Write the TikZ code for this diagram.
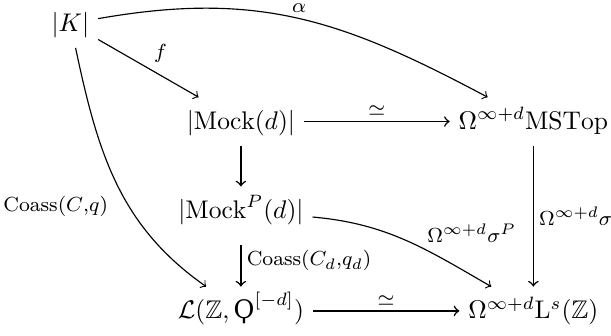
\documentclass[tikz,border=0pt]{standalone}
\usepackage{amsmath,amssymb}
\usepackage{fontspec}
\newfontfamily\qoppafont{DejaVu Serif}
\newcommand{\Qop}{\text{\qoppafont Ϙ}}
\begin{document}
\begin{tikzpicture}[
    obj/.style={anchor=base, text height=9pt, text depth=3pt},
    lbl/.style={font=\footnotesize, inner sep=2pt},
    map/.style={->, line width=0.6pt},
    curv/.style={->, line width=0.45pt}]
    \useasboundingbox (0,0) rectangle (8.42,4.62);
    % objects
    \node[obj] (K) at (0.97,4.19) {$|K|$};
    \node[obj] (mock) at (3.32,2.84) {$|\mathrm{Mock}(d)|$};
    \node[obj] (ms) at (7.35,2.84) {$\Omega^{\infty+d}\mathrm{MSTop}$};
    \node[obj] (mockP) at (3.32,1.61) {$|\mathrm{Mock}^P(d)|$};
    \node[obj] (L) at (3.32,0.23) {$\mathcal{L}(\mathbb{Z}, \Qop^{[-d]})$};
    \node[obj] (Ls) at (7.35,0.23) {$\Omega^{\infty+d}\mathrm{L}^s(\mathbb{Z})$};
    % maps
    \draw[curv] (K) to[out=10, in=152, looseness=1.05] node[midway, above, lbl] {$\alpha$} (ms);
    \draw[curv] (K) -- node[midway, above right, lbl] {$f$} (mock);
    \draw[curv] (K) to[out=-78, in=145] node[pos=0.6, left=6pt, lbl] {$\mathrm{Coass}(C{,}q)$} (L);
    \draw[map] (mock) -- node[midway, above, lbl] {$\simeq$} (ms);
    \draw[map] (mock) -- (mockP);
    \draw[map] (ms) -- node[midway, right, lbl] {$\Omega^{\infty+d}\sigma$} (Ls);
    \draw[curv] (mockP) to[out=-5, in=150] node[pos=0.6, above right, lbl] {$\Omega^{\infty+d}\sigma^P$} (Ls);
    \draw[map, shorten <=4pt] (mockP) -- node[midway, right, lbl] {$\mathrm{Coass}(C_d{,}q_d)$} (L);
    \draw[map] (L) -- node[midway, above, lbl] {$\simeq$} (Ls);
\end{tikzpicture}
\end{document}
